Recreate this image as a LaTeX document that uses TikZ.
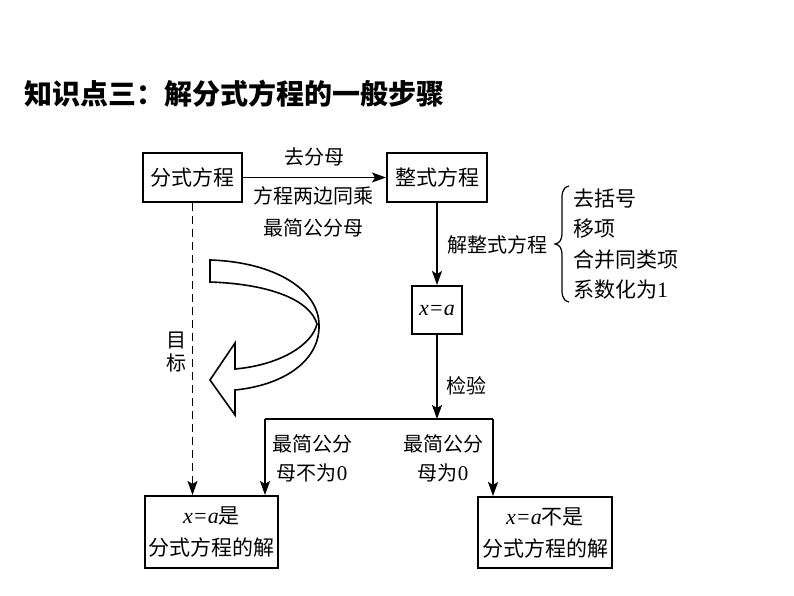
\documentclass[tikz,border=0pt]{standalone}
\usepackage{fontspec}
\setmainfont{Liberation Serif}
\newfontfamily\cjk{Noto Sans CJK SC}
\newfontfamily\tnr{Liberation Serif}
\usetikzlibrary{arrows.meta}
\begin{document}
\begin{tikzpicture}[x=1pt,y=-1pt,
  box/.style={draw,line width=2pt,inner sep=0pt,align=center,font=\cjk\fontsize{21}{25}\selectfont},
  lbl/.style={inner sep=0pt,align=center,font=\cjk\fontsize{20}{30}\selectfont},
  conn/.style={line width=1.6pt},
  arr/.style={conn,-{Stealth[length=14pt,width=10pt,inset=3pt]}}]
\useasboundingbox[fill=white] (0,0) rectangle (794,596);
\node[inner sep=0pt,anchor=west,font=\cjk\bfseries\fontsize{28}{30}\selectfont] (title) at (24,94) {知识点三：解分式方程的一般步骤};
\node[box,minimum width=99pt,minimum height=49pt] (fs) at (192.5,177.5) {分式方程};
\node[box,minimum width=100pt,minimum height=49pt] (zs) at (437,177.5) {整式方程};
\node[box,minimum width=50pt,minimum height=48pt,font=\tnr\itshape\fontsize{22}{25}\selectfont] (xa) at (437,310) {x=a};
\node[box,minimum width=133pt,minimum height=72pt,font=\cjk\fontsize{21}{32}\selectfont] (lb) at (211.5,532) {{\tnr\itshape\fontsize{22}{25}\selectfont x=a}是\\分式方程的解};
\node[box,minimum width=134pt,minimum height=71pt,font=\cjk\fontsize{21}{32}\selectfont] (rb) at (545,532.5) {{\tnr\itshape\fontsize{22}{25}\selectfont x=a}不是\\分式方程的解};
% top arrow
\draw[arr] (fs.east) -- (zs.west);
\node[lbl] (l1) at (314,157) {去分母};
\node[lbl,font=\cjk\fontsize{20}{32}\selectfont] (l2) at (313,212) {方程两边同乘\\最简公分母};
% vertical
\draw[arr] (zs.south) -- (xa.north);
\node[lbl] (l3) at (497,245) {解整式方程};
\coordinate (mid) at (437,419);
\draw[arr] (xa.south) -- (mid);
\node[lbl] (l4) at (466,386) {检验};
\coordinate (hl) at (265,419);
\coordinate (hr) at (493,419);
\draw[conn] (hl) -- (hr);
\draw[arr] (hl) -- (hl |- lb.north);
\draw[arr] (hr) -- (hr |- rb.north);
\node[lbl,font=\cjk\fontsize{20}{29}\selectfont] (l5) at (312,458) {最简公分\\母不为{\tnr\fontsize{21}{25}\selectfont 0}};
\node[lbl,font=\cjk\fontsize{20}{29}\selectfont] (l6) at (443,458) {最简公分\\母为{\tnr\fontsize{21}{25}\selectfont 0}};
% dashed
\draw[arr,dash pattern=on 8pt off 5pt] (fs.south) -- (fs.south |- lb.north);
\node[lbl,font=\cjk\fontsize{20}{23}\selectfont] (l7) at (176,352) {目\\标};
% brace
\draw[line width=1.2pt] (569,186) .. controls (561,188) and (562,195) .. (562,205) -- (562,232) .. controls (562,240) and (560,243) .. (555,244) .. controls (560,245) and (562,248) .. (562,256) -- (562,283) .. controls (562,293) and (561,300) .. (569,302);
\node[lbl,anchor=west,font=\cjk\fontsize{21}{30.5}\selectfont,align=left] (list) at (573,244) {去括号\\移项\\合并同类项\\系数化为{\tnr\fontsize{22}{25}\selectfont 1}};
% twisted block arrow
\draw[line width=1.6pt,fill=white,line join=miter]
  (210,260) .. controls (275,262) and (319,290) .. (319,325)
  .. controls (320,360) and (285,385) .. (235,390)
  -- (235,415) -- (210,380) -- (235,343) -- (235,369)
  .. controls (280,365) and (312,345) .. (317,324)
  .. controls (310,300) and (270,284) .. (210,282) -- cycle;
\end{tikzpicture}
\end{document}
